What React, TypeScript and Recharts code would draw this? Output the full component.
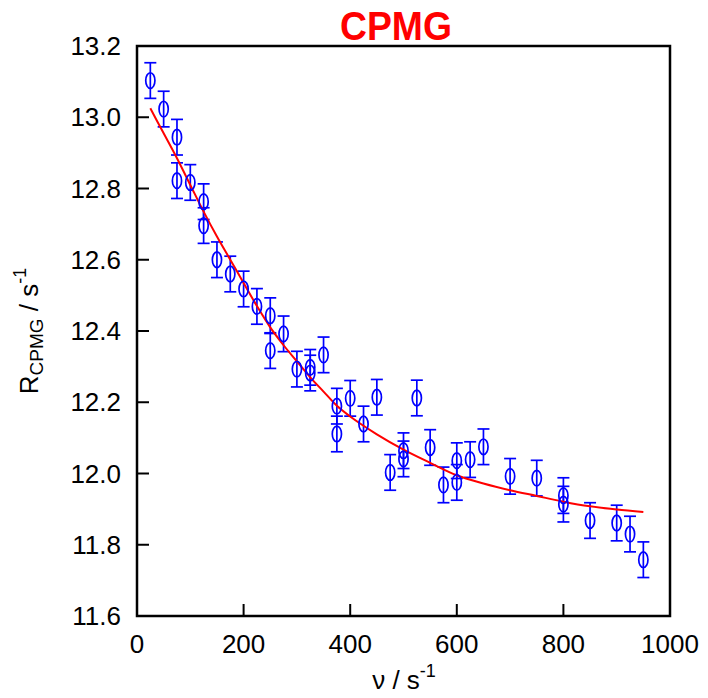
import {
  ComposedChart,
  Scatter,
  Line,
  XAxis,
  YAxis,
  ErrorBar,
  ReferenceArea,
} from "recharts";

// measured CPMG dispersion points (frequency / s^-1, R / s^-1)
const nuValues = [
  25, 50, 75, 75, 100, 125, 125, 150, 175, 200, 225, 250, 250, 275, 300, 325,
  325, 350, 375, 375, 400, 425, 450, 475, 500, 500, 525, 550, 575, 600, 600,
  625, 650, 700, 750, 800, 800, 850, 900, 925, 950,
];
const rValues = [
  13.103, 13.023, 12.944, 12.822, 12.817, 12.763, 12.696, 12.6, 12.56, 12.518,
  12.469, 12.443, 12.345, 12.392, 12.293, 12.298, 12.282, 12.333, 12.189,
  12.111, 12.211, 12.139, 12.214, 12.003, 12.064, 12.041, 12.212, 12.073,
  11.968, 12.036, 11.975, 12.039, 12.075, 11.992, 11.987, 11.938, 11.914,
  11.868, 11.861, 11.83, 11.758,
];
const rErrors = [
  0.05, 0.05, 0.05, 0.05, 0.05, 0.05, 0.05, 0.05, 0.05, 0.05, 0.05, 0.05,
  0.05, 0.05, 0.05, 0.05, 0.05, 0.05, 0.05, 0.05, 0.05, 0.05, 0.05, 0.05,
  0.05, 0.05, 0.05, 0.05, 0.05, 0.05, 0.05, 0.05, 0.05, 0.05, 0.05, 0.05,
  0.05, 0.05, 0.05, 0.05, 0.05,
];

// fitted curve
const fitNu = [
  25, 50, 75, 100, 125, 150, 175, 200, 225, 250, 275, 300, 325, 350, 375, 400,
  450, 500, 550, 600, 650, 700, 750, 800, 850, 900, 950,
];
const fitR = [
  13.025, 12.955, 12.885, 12.81, 12.735, 12.665, 12.6, 12.535, 12.47, 12.41,
  12.36, 12.315, 12.27, 12.23, 12.19, 12.16, 12.11, 12.067, 12.03, 11.995,
  11.972, 11.953, 11.937, 11.921, 11.908, 11.899, 11.892,
];

const xTicks = [0, 200, 400, 600, 800, 1000];
const yTicks = [11.6, 11.8, 12.0, 12.2, 12.4, 12.6, 12.8, 13.0, 13.2];

const points = nuValues.map((x, i) => ({ x, y: rValues[i], err: rErrors[i] }));
const fit = fitNu.map((x, i) => ({ x, y: fitR[i] }));

const FONT = "'Liberation Sans', Arial, Helvetica, sans-serif";
const BLUE = "#0000ff";
const RED = "#ff0000";

const YTick = (props: any) => {
  const { x, y, payload } = props;
  return (
    <g>
      <line x1={x + 16} x2={x + 28} y1={y} y2={y} stroke="#000" strokeWidth={2} />
      <text x={x} y={y + 9} textAnchor="end" fontSize={26} fontFamily={FONT} fill="#000">
        {Number(payload.value).toFixed(1)}
      </text>
    </g>
  );
};

const XTick = (props: any) => {
  const { x, y, payload } = props;
  return (
    <g>
      <line x1={x} x2={x} y1={y} y2={y - 12} stroke="#000" strokeWidth={2} />
      <text x={x} y={y + 37} textAnchor="middle" fontSize={26} fontFamily={FONT} fill="#000">
        {payload.value}
      </text>
    </g>
  );
};

const Marker = (props: any) => {
  const { cx, cy } = props;
  return <ellipse cx={cx} cy={cy} rx={4.6} ry={7.8} fill="none" stroke={BLUE} strokeWidth={1.7} />;
};

export default function App() {
  return (
    <div style={{ position: "absolute", left: 0, top: 0 }}>
      <ComposedChart
        width={708}
        height={698}
        margin={{ top: 46, right: 38, bottom: 42, left: 77 }}
      >
        <XAxis
          dataKey="x"
          type="number"
          domain={[0, 1000]}
          ticks={xTicks}
          tickSize={0}
          tickMargin={0}
          tick={<XTick />}
          axisLine={false}
          tickLine={false}
          height={40}
          allowDataOverflow
        />
        <YAxis
          type="number"
          domain={[11.6, 13.2]}
          ticks={yTicks}
          tickSize={0}
          tickMargin={16}
          tick={<YTick />}
          axisLine={false}
          tickLine={false}
          width={60}
          allowDataOverflow
        />
        <ReferenceArea
          x1={0}
          x2={1000}
          y1={11.6}
          y2={13.2}
          fill="none"
          stroke="#000"
          strokeWidth={2.5}
          fillOpacity={0}
        />
        <Scatter data={points} dataKey="y" shape={<Marker />} isAnimationActive={false}>
          <ErrorBar dataKey="err" direction="y" width={6} stroke={BLUE} strokeWidth={1.7} />
        </Scatter>
        <Line
          data={fit}
          dataKey="y"
          type="monotone"
          stroke={RED}
          strokeWidth={2}
          dot={false}
          activeDot={false}
          isAnimationActive={false}
        />
        <text
          x={396}
          y={40}
          textAnchor="middle"
          fill={RED}
          fontWeight="bold"
          fontSize={41}
          fontFamily={FONT}
          textLength={112}
          lengthAdjust="spacingAndGlyphs"
        >
          CPMG
        </text>
        <text
          x={38}
          y={331}
          transform="rotate(-90, 38, 331)"
          textAnchor="middle"
          fontSize={26}
          fontFamily={FONT}
          fill="#000"
        >
          R
          <tspan fontSize={19} dy={5}>CPMG</tspan>
          <tspan dy={-5}> / s</tspan>
          <tspan fontSize={18} dy={-12}>-1</tspan>
        </text>
        <text x={404} y={689} textAnchor="middle" fontSize={26} fontFamily={FONT} fill="#000">
          ν / s
          <tspan fontSize={18} dy={-12}>-1</tspan>
        </text>
      </ComposedChart>
    </div>
  );
}
